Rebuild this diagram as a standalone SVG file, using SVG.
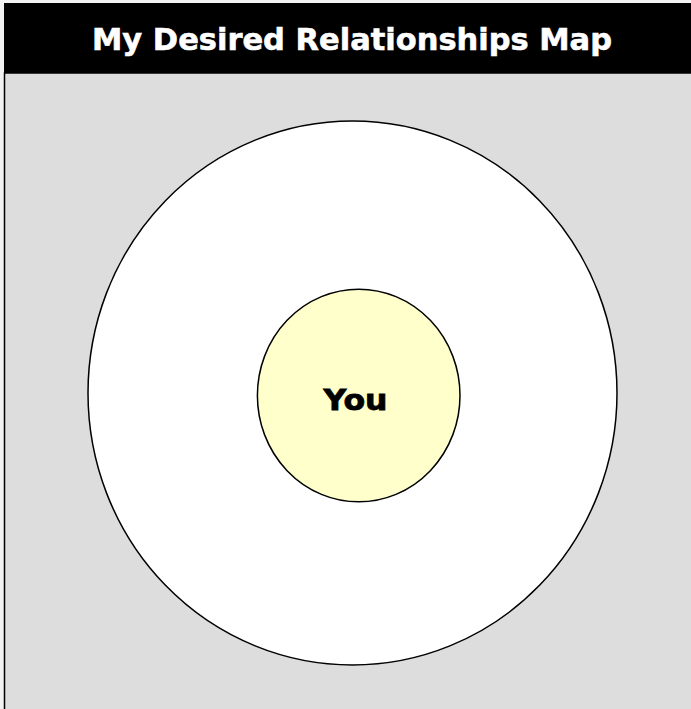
<svg xmlns="http://www.w3.org/2000/svg" width="691" height="709" viewBox="0 0 691 709">
  <style>
    .title { font-family: "DejaVu Sans", Verdana, sans-serif; font-weight: bold; font-size: 31px; fill: #ffffff; stroke: #ffffff; stroke-width: 0.6; }
    .you { font-family: "DejaVu Sans", Verdana, sans-serif; font-weight: bold; font-size: 28px; fill: #000000; stroke: #000000; stroke-width: 0.8; }
    .ring { stroke: #000000; stroke-width: 1.5; }
  </style>
  <rect x="0" y="0" width="691" height="709" fill="#f2f2f2"/>
  <g id="frame">
    <rect x="4.5" y="73" width="700" height="650" fill="#dddddd" stroke="#000000" stroke-width="1.5"/>
    <rect x="4" y="3" width="700" height="70" fill="#000000"/>
    <text class="title" x="352" y="50" text-anchor="middle" textLength="520" lengthAdjust="spacingAndGlyphs">My Desired Relationships Map</text>
  </g>
  <g id="outer-circle">
    <ellipse class="ring" cx="352.5" cy="393" rx="264.5" ry="272" fill="#ffffff"/>
  </g>
  <g id="you">
    <ellipse class="ring" cx="358.7" cy="395.5" rx="101.3" ry="106.3" fill="#ffffcc"/>
    <text class="you" x="355.5" y="410" text-anchor="middle" textLength="64" lengthAdjust="spacingAndGlyphs">You</text>
  </g>
  <g id="connectors"/>
</svg>
